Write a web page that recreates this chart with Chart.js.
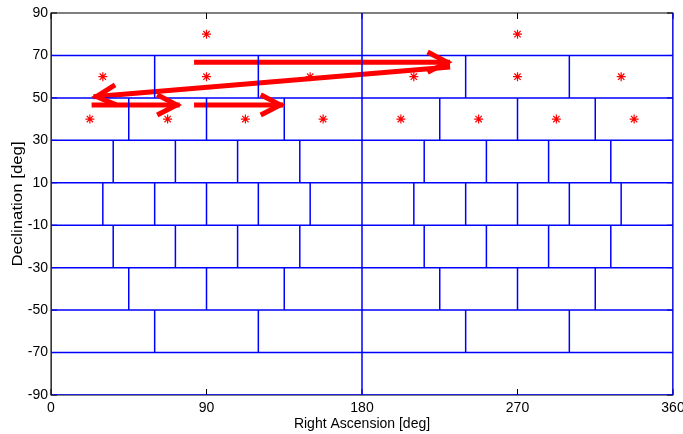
<!DOCTYPE html>
<html>
<head>
<meta charset="utf-8">
<script src="https://cdn.jsdelivr.net/npm/chart.js@4.4.0/dist/chart.umd.min.js"></script>
<style>
  html, body { margin: 0; padding: 0; background: #fff; }
  #wrap { width: 683px; height: 434px; }
</style>
</head>
<body>
<div id="wrap"><canvas id="skyChart" width="683" height="434"></canvas></div>
<script>
// sky tiling: declination band edges and number of tiles in each band
const decEdges = [-90, -70, -50, -30, -10, 10, 30, 50, 70, 90];
const tilesPerBand = [2, 6, 8, 10, 12, 10, 8, 6, 2];

// pointing centres (red stars)
const starRA  = [22.5, 67.5, 112.5, 157.5, 202.5, 247.5, 292.5, 337.5, 30, 90, 150, 210, 270, 330, 90, 270];
const starDec = [40, 40, 40, 40, 40, 40, 40, 40, 60, 60, 60, 60, 60, 60, 80, 80];

// scan path arrows (start -> end)
const arrowFromRA  = [23.5, 82.8, 82.8, 231];
const arrowFromDec = [46.7, 46.7, 66.8, 64.6];
const arrowToRA    = [74.5, 134.4, 231, 24.6];
const arrowToDec   = [46.7, 46.7, 66.8, 50.5];

const raTicks  = [0, 90, 180, 270, 360];
const decTicks = [-90, -70, -50, -30, -10, 10, 30, 50, 70, 90];

const yTitle = 'Declination [deg]';

Chart.defaults.font.family = '"Liberation Sans", Arial, sans-serif';
Chart.defaults.color = '#000';

// tile borders as line segments, separated by null points
const gridPts = [];
function seg(x1, y1, x2, y2) {
    gridPts.push({x: x1, y: y1}, {x: x2, y: y2}, {x: x2, y: null});
}
decEdges.slice(0, -1).forEach(d => seg(0, d, 360, d));
seg(0, -90, 0, 90);
seg(360, -90, 360, 90);
tilesPerBand.forEach((n, i) => {
    const w = 360 / n;
    for (let k = 1; k < n; k++) seg(k * w, decEdges[i], k * w, decEdges[i + 1]);
});

const shaftPts = [];
arrowToRA.forEach((ra, i) => {
    shaftPts.push({x: arrowFromRA[i], y: arrowFromDec[i]}, {x: ra, y: arrowToDec[i]}, {x: ra, y: null});
});

const starPts = starRA.map((ra, i) => ({x: ra, y: starDec[i]}));

// black axes box + inward tick marks (matlab style)
const frame = {
    id: 'frame',
    beforeDatasetsDraw(chart) {
        const {ctx, chartArea: a, scales: {x, y}} = chart;
        ctx.save();
        ctx.strokeStyle = '#000';
        ctx.lineWidth = 1;
        ctx.strokeRect(a.left, a.top, a.right - a.left, a.bottom - a.top);
        ctx.beginPath();
        raTicks.forEach(v => {
            const px = x.getPixelForValue(v);
            ctx.moveTo(px, a.top); ctx.lineTo(px, a.top + 6);
            ctx.moveTo(px, a.bottom); ctx.lineTo(px, a.bottom - 6);
        });
        decTicks.forEach(v => {
            const py = y.getPixelForValue(v);
            ctx.moveTo(a.left, py); ctx.lineTo(a.left + 6, py);
            ctx.moveTo(a.right, py); ctx.lineTo(a.right - 6, py);
        });
        ctx.stroke();
        ctx.restore();
    }
};

// y title: the figure was stretched vertically, so the rotated label is stretched too
const yTitlePlugin = {
    id: 'yTitlePlugin',
    afterDraw(chart) {
        const {ctx, chartArea: a} = chart;
        ctx.save();
        ctx.translate(18.5, (a.top + a.bottom) / 2);
        ctx.rotate(-Math.PI / 2);
        ctx.scale(1.2, 1);
        ctx.font = '14px "Liberation Sans", Arial, sans-serif';
        ctx.fillStyle = '#000';
        ctx.textAlign = 'center';
        ctx.textBaseline = 'middle';
        ctx.fillText(yTitle, 0, 0);
        ctx.restore();
    }
};

const arrowHeads = {
    id: 'arrowHeads',
    afterDatasetsDraw(chart) {
        const {ctx, scales: {x, y}} = chart;
        ctx.save();
        ctx.strokeStyle = '#ff0000';
        ctx.lineWidth = 5;
        ctx.lineJoin = 'miter';
        arrowToRA.forEach((ra, i) => {
            const x0 = x.getPixelForValue(arrowFromRA[i]), y0 = y.getPixelForValue(arrowFromDec[i]);
            const x1 = x.getPixelForValue(ra), y1 = y.getPixelForValue(arrowToDec[i]);
            const a = Math.atan2(y1 - y0, x1 - x0);
            const tx = x1 - 3 * Math.cos(a), ty = y1 - 3 * Math.sin(a);
            const len = 22, spread = 0.48;
            ctx.beginPath();
            ctx.moveTo(tx - len * Math.cos(a - spread), ty - len * Math.sin(a - spread));
            ctx.lineTo(tx, ty);
            ctx.lineTo(tx - len * Math.cos(a + spread), ty - len * Math.sin(a + spread));
            ctx.stroke();
        });
        ctx.restore();
    }
};

new Chart(document.getElementById('skyChart'), {
    type: 'scatter',
    plugins: [frame, arrowHeads, yTitlePlugin],
    data: {
        datasets: [
            {
                data: gridPts,
                showLine: true,
                spanGaps: false,
                borderColor: '#0000ff',
                borderWidth: 1.5,
                pointRadius: 0
            },
            {
                data: shaftPts,
                showLine: true,
                spanGaps: false,
                borderColor: '#ff0000',
                borderWidth: 5,
                pointRadius: 0
            },
            {
                data: starPts,
                showLine: false,
                pointStyle: 'star',
                pointRadius: 4.5,
                borderColor: '#ff0000',
                borderWidth: 1.2,
                backgroundColor: '#ff0000'
            }
        ]
    },
    options: {
        responsive: false,
        animation: false,
        devicePixelRatio: 1,
        events: [],
        layout: { padding: { top: 13, right: 10, left: 0, bottom: 0 } },
        plugins: {
            legend: { display: false },
            tooltip: { enabled: false }
        },
        scales: {
            x: {
                type: 'linear',
                min: 0,
                max: 360,
                grid: { display: false, drawTicks: false },
                border: { display: false },
                afterBuildTicks: s => { s.ticks = raTicks.map(v => ({value: v})); },
                afterFit: s => { s.height = 39; s.paddingLeft = 0; s.paddingRight = 0; },
                ticks: { color: '#000', font: { size: 14 }, padding: 5, maxRotation: 0, autoSkip: false },
                title: { display: true, text: 'Right Ascension [deg]', color: '#000', font: { size: 14 }, padding: { top: 0, bottom: 1 } }
            },
            y: {
                type: 'linear',
                min: -90,
                max: 90,
                grid: { display: false, drawTicks: false },
                border: { display: false },
                afterBuildTicks: s => { s.ticks = decTicks.map(v => ({value: v})); },
                afterFit: s => { s.width = 51; s.paddingTop = 0; s.paddingBottom = 0; },
                ticks: { color: '#000', font: { size: 14 }, padding: 3, autoSkip: false },
                title: { display: false }
            }
        }
    }
});
</script>
</body>
</html>
